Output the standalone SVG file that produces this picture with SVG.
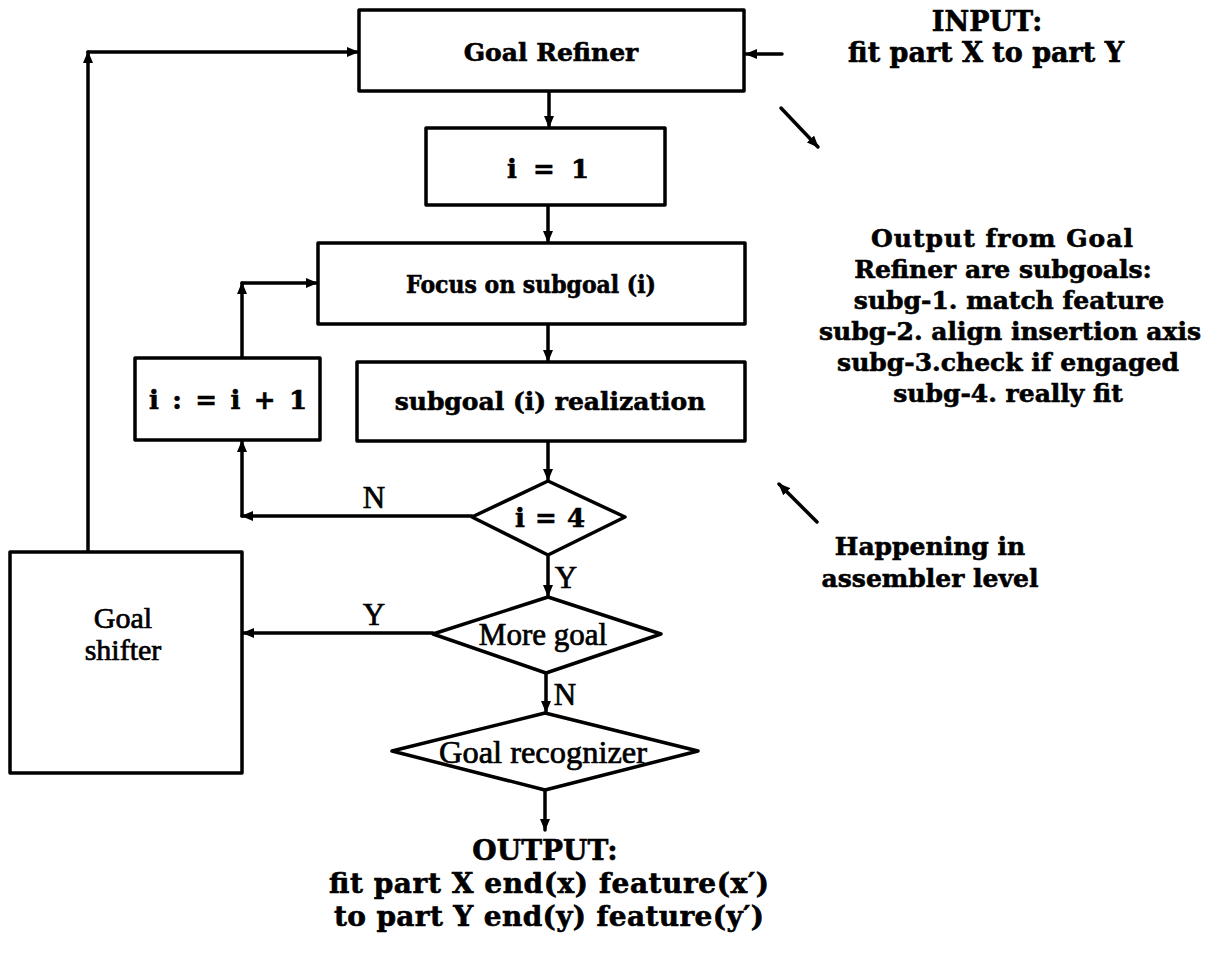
<svg xmlns="http://www.w3.org/2000/svg" width="1211" height="964" viewBox="0 0 1211 964">
  <defs>
    <style>
      .box { fill: #fff; stroke: #000; stroke-width: 3.5; stroke-linejoin: round; }
      .ln { fill: none; stroke: #000; stroke-width: 3.5; stroke-linecap: round; stroke-linejoin: round; }
      .arr { marker-end: url(#head); }
      .b { font-family: "DejaVu Serif", "Liberation Serif", serif; font-weight: bold; fill: #000; stroke: #000; stroke-width: 0.6; text-anchor: middle; }
      .r { font-family: "Liberation Serif", "Times New Roman", serif; fill: #000; stroke: #000; stroke-width: 0.7; text-anchor: middle; }
    </style>
    <marker id="head" viewBox="0 0 12 10" refX="11" refY="5" markerWidth="12" markerHeight="10" markerUnits="userSpaceOnUse" orient="auto">
      <path d="M0,0 L12,5 L0,10 z" fill="#000"/>
    </marker>
  </defs>
  <rect width="1211" height="964" fill="#fff"/>

  <!-- connectors -->
  <g id="connectors">
    <!-- input into the refiner -->
    <line class="ln arr" x1="782" y1="54" x2="746" y2="54"/>
    <!-- main spine -->
    <line class="ln arr" x1="549" y1="91" x2="549" y2="127"/>
    <line class="ln arr" x1="548" y1="205" x2="548" y2="242"/>
    <line class="ln arr" x1="548" y1="324" x2="548" y2="361"/>
    <line class="ln arr" x1="548" y1="441" x2="548" y2="480"/>
    <line class="ln arr" x1="548" y1="555" x2="548" y2="596"/>
    <line class="ln arr" x1="546" y1="673" x2="546" y2="712"/>
    <line class="ln arr" x1="545" y1="790" x2="545" y2="830"/>
    <!-- i = 4 : N back to increment -->
    <line class="ln arr" x1="472" y1="516" x2="242" y2="516"/>
    <line class="ln arr" x1="242" y1="516" x2="242" y2="441"/>
    <!-- increment back to focus -->
    <line class="ln arr" x1="242" y1="358" x2="242" y2="283"/>
    <line class="ln arr" x1="242" y1="283" x2="317" y2="283"/>
    <!-- more goal : Y to shifter -->
    <line class="ln arr" x1="433" y1="633" x2="243" y2="633"/>
    <!-- shifter back to refiner -->
    <line class="ln arr" x1="88" y1="552" x2="88" y2="52"/>
    <line class="ln arr" x1="88" y1="52" x2="358" y2="52"/>
    <!-- annotation pointers -->
    <line class="ln arr" x1="781" y1="108" x2="818" y2="147"/>
    <line class="ln arr" x1="817" y1="522" x2="779" y2="484"/>
    <!-- branch labels -->
    <text class="r" x="374" y="508" font-size="31">N</text>
    <text class="r" x="566" y="588" font-size="31">Y</text>
    <text class="r" x="374" y="625" font-size="31">Y</text>
    <text class="r" x="565" y="705" font-size="31">N</text>
  </g>

  <g id="goal-refiner">
    <rect class="box" x="359" y="10" width="385" height="81"/>
    <text class="b" x="551" y="61" font-size="25">Goal Refiner</text>
  </g>

  <g id="init-i">
    <rect class="box" x="426" y="128" width="239" height="77"/>
    <text class="b" x="548" y="178" font-size="26" textLength="82">i = 1</text>
  </g>

  <g id="focus-subgoal">
    <rect class="box" x="318" y="243" width="427" height="81"/>
    <text class="b" x="531" y="293" font-size="25" textLength="250" lengthAdjust="spacingAndGlyphs">Focus on subgoal (i)</text>
  </g>

  <g id="increment-i">
    <rect class="box" x="135" y="358" width="185" height="82"/>
    <text class="b" x="228" y="409" font-size="26" textLength="158">i : = i + 1</text>
  </g>

  <g id="subgoal-realization">
    <rect class="box" x="357" y="362" width="388" height="79"/>
    <text class="b" x="550" y="410" font-size="25">subgoal (i) realization</text>
  </g>

  <g id="test-i">
    <polygon class="box" points="548,481 625,517 548,555 472,517"/>
    <text class="b" x="550" y="527" font-size="26" textLength="70">i = 4</text>
  </g>

  <g id="more-goal">
    <polygon class="box" points="548,597 661,634 546,673 433,634"/>
    <text class="r" x="543" y="645" font-size="31">More goal</text>
  </g>

  <g id="goal-recognizer">
    <polygon class="box" points="545,713 698,751 545,790 392,751"/>
    <text class="r" x="543" y="763" font-size="31" textLength="208" lengthAdjust="spacingAndGlyphs">Goal recognizer</text>
  </g>

  <g id="goal-shifter">
    <rect class="box" x="10" y="552" width="232" height="221"/>
    <text class="r" x="123" y="628" font-size="30">Goal</text>
    <text class="r" x="123" y="660" font-size="30">shifter</text>
  </g>

  <g id="input-note">
    <text class="b" x="987" y="31" font-size="27">INPUT:</text>
    <text class="b" x="986" y="62" font-size="27">fit part X to part Y</text>
  </g>

  <g id="subgoal-note">
    <text class="b" x="1002" y="247" font-size="25" textLength="262">Output from Goal</text>
    <text class="b" x="1003" y="278" font-size="25">Refiner are subgoals:</text>
    <text class="b" x="1009" y="309" font-size="25">subg-1. match feature</text>
    <text class="b" x="1010" y="340" font-size="25">subg-2. align insertion axis</text>
    <text class="b" x="1008" y="371" font-size="25">subg-3.check if engaged</text>
    <text class="b" x="1008" y="402" font-size="25">subg-4. really fit</text>
  </g>

  <g id="level-note">
    <text class="b" x="930" y="555" font-size="25">Happening in</text>
    <text class="b" x="930" y="587" font-size="25">assembler level</text>
  </g>

  <g id="output-note">
    <text class="b" x="545" y="860" font-size="28">OUTPUT:</text>
    <text class="b" x="549" y="893" font-size="28" textLength="440">fit part X end(x) feature(x′)</text>
    <text class="b" x="549" y="926" font-size="28" textLength="430">to part Y end(y) feature(y′)</text>
  </g>
</svg>
